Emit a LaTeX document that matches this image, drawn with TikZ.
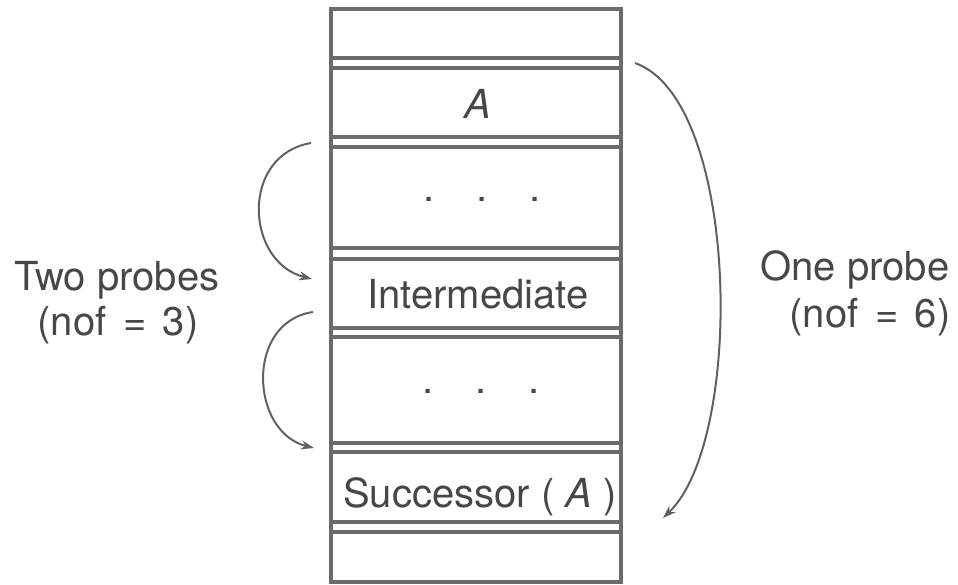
\documentclass[tikz,border=0pt]{standalone}
\usepackage{fontspec}
\setmainfont{TeX Gyre Heros}
\usetikzlibrary{arrows.meta}
\begin{document}
\begin{tikzpicture}[x=1pt,y=-1pt,
  rule/.style={draw=black!58, line width=3.2pt},
  lbl/.style={font=\fontsize{40}{46}\selectfont, text=black!72, inner sep=0pt, anchor=base},
  probe/.style={draw=black!62, line width=2pt, -{Stealth[length=13pt,width=9pt]}},
]
\useasboundingbox (0,0) rectangle (958,584);
% column frame
\draw[rule] (331,9) rectangle (621,582);
\foreach \yy in {58,68,137,147,248,259,328,337,443,452,522,532}
  \draw[rule] (331,\yy) -- (621,\yy);
% cell contents
\node[lbl] (a) at (478,118) {\itshape A};
\node[lbl] (dotsa) at (482,201) {.\hspace{42pt}.\hspace{42pt}.};
\node[lbl] (inter) at (478,308) {Intermediate};
\node[lbl] (dotsb) at (481,393) {.\hspace{42pt}.\hspace{42pt}.};
\node[lbl] (succ) at (480,507) {Successor ( \textit{A} )};
% labels
\node[lbl] (two) at (117,290) {Two probes};
\node[lbl] (twob) at (118,335) {(nof\hspace{6pt} =\hspace{5pt} 3)};
\node[lbl] (one) at (855,280) {One probe};
\node[lbl] (oneb) at (870,327) {(nof\hspace{6pt} =\hspace{5pt} 6)};
% arrow end points
\coordinate (l1s) at (311,143);
\coordinate (l1e) at (312,279);
\coordinate (l2s) at (313,312);
\coordinate (l2e) at (314,448);
\coordinate (rs) at (635,63);
\coordinate (re) at (663,518);
\draw[probe] (l1s) .. controls (240,155) and (245,262) .. (l1e);
\draw[probe] (l2s) .. controls (245,322) and (250,432) .. (l2e);
\draw[probe] (rs) .. controls (740,100) and (745,440) .. (re);
\end{tikzpicture}
\end{document}
